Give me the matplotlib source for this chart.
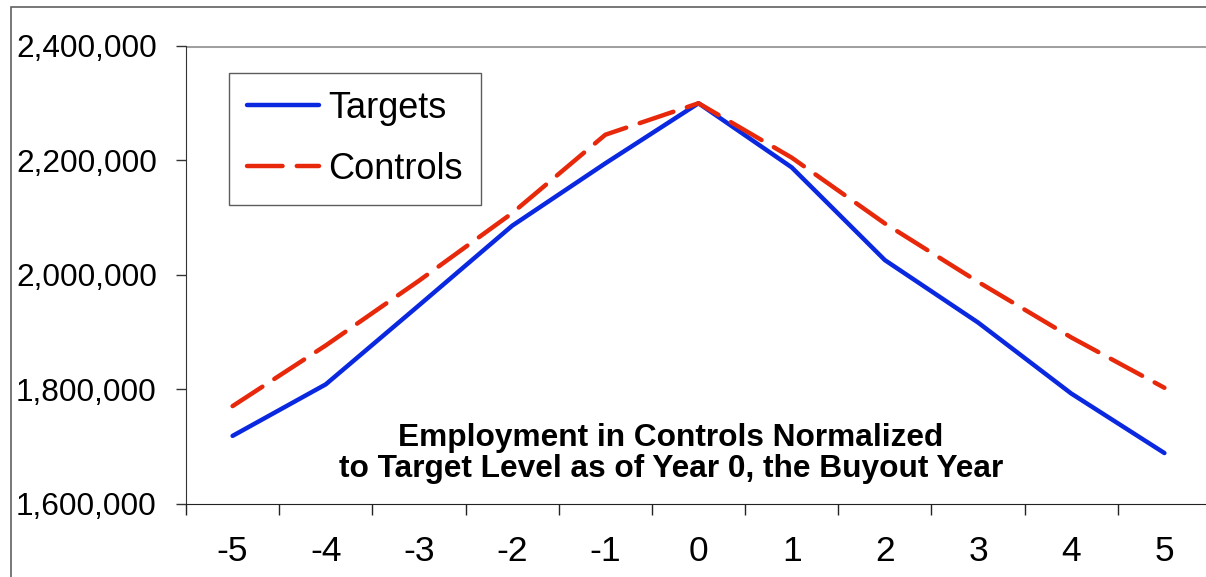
import numpy as np
import matplotlib.pyplot as plt
from matplotlib.patches import Rectangle
from matplotlib.ticker import FuncFormatter, FixedLocator

# ── Data ──────────────────────────────────────────────────────────────────────

years    = [-5, -4, -3, -2, -1, 0, 1, 2, 3, 4, 5]
targets  = [1719000, 1809000, 1947000, 2086000, 2195000, 2300000,
            2188000, 2026000, 1917000, 1793000, 1689000]
controls = [1771000, 1877000, 1990000, 2108000, 2245000, 2300000,
            2205000, 2090000, 1988000, 1891000, 1803000]
y_ticks  = [1600000, 1800000, 2000000, 2200000, 2400000]

note = "Employment in Controls Normalized\nto Target Level as of Year 0, the Buyout Year"

# ── Style ─────────────────────────────────────────────────────────────────────

plt.rcParams.update({
    "font.family": ["Liberation Sans", "DejaVu Sans"],
})

COLOR_TARGET  = "#0a28e0"
COLOR_CONTROL = "#e8280a"

fig = plt.figure(figsize=(12.06, 5.77), dpi=100)
ax = fig.add_axes([186 / 1206, 73 / 577, 1025 / 1206, 458 / 577])

# outer chart frame (left and top edges visible)
fig.patches.append(Rectangle((11 / 1206, -0.1), 1.2, 1.1 - 7 / 577,
                             transform=fig.transFigure, fill=False,
                             edgecolor="#606060", linewidth=1.2))

ax.plot(years, targets, color=COLOR_TARGET, linewidth=3.2,
        solid_capstyle="round", label="Targets", zorder=3)
ax.plot(years, controls, color=COLOR_CONTROL, linewidth=3.2,
        dashes=(8.0, 3.2), dash_capstyle="round", label="Controls", zorder=3)

# top gridline at max value
ax.axhline(2400000, color="#a0a0a0", linewidth=2.2, zorder=1)

ax.set_xlim(-5.5, 5.5)
ax.set_ylim(1600000, 2400000)

ax.spines["top"].set_visible(False)
ax.spines["right"].set_visible(False)
ax.spines["left"].set_color("#333333")
ax.spines["bottom"].set_color("#222222")

# x: ticks on category boundaries, labels at centres
ax.xaxis.set_major_locator(FixedLocator(np.arange(-5.5, 5.6, 1.0)))
ax.xaxis.set_minor_locator(FixedLocator(years))
ax.xaxis.set_major_formatter(FuncFormatter(lambda v, p: ""))
ax.xaxis.set_minor_formatter(FuncFormatter(lambda v, p: f"{int(round(v))}"))
ax.tick_params(axis="x", which="major", length=8, width=1, color="#222222")
ax.tick_params(axis="x", which="minor", length=0, pad=22, labelsize=25.5)

ax.set_yticks(y_ticks)
ax.yaxis.set_major_formatter(FuncFormatter(lambda v, p: f"{int(v):,}"))
ax.tick_params(axis="y", length=7, width=1, color="#333333",
               pad=14, labelsize=22.8)

leg = ax.legend(loc="upper left", bbox_to_anchor=(0.042, 0.941),
                fontsize=26, frameon=True, fancybox=False,
                handlelength=2.0, handletextpad=0.25,
                labelspacing=0.72, borderpad=0.5, borderaxespad=0)
leg.get_frame().set_edgecolor("#333333")
leg.get_frame().set_linewidth(1.0)

ax.text(0.473, 0.111, note, transform=ax.transAxes,
        ha="center", va="center", fontsize=22.8, fontweight="bold",
        linespacing=1.05)

plt.savefig("out.png", dpi=100)
